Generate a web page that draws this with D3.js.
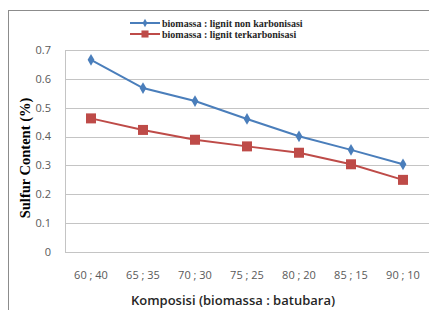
<!DOCTYPE html>
<html>
<head>
<meta charset="utf-8">
<script src="https://cdn.jsdelivr.net/npm/d3@7"></script>
<style>
  html, body { margin: 0; padding: 0; background: #fff; }
  svg { display: block; }
</style>
</head>
<body>
<div id="chart"></div>
<script>
// data
const categories = ["60 ; 40", "65 ; 35", "70 ; 30", "75 ; 25", "80 ; 20", "85 ; 15", "90 ; 10"]
const nonKarbonisasi = [0.666, 0.568, 0.523, 0.461, 0.401, 0.354, 0.304]
const terKarbonisasi = [0.463, 0.423, 0.389, 0.366, 0.344, 0.304, 0.25]
const yTicks = [0, 0.1, 0.2, 0.3, 0.4, 0.5, 0.6, 0.7]
const seriesNames = ["biomassa : lignit non karbonisasi", "biomassa : lignit terkarbonisasi"]

const width = 429, height = 310
const plot = { left: 65, right: 429, top: 50, bottom: 252 }

const svg = d3.select("#chart").append("svg")
    .attr("width", width)
    .attr("height", height)

// outer chart border (runs off the right/bottom of the crop)
svg.append("rect")
    .attr("x", 8.5).attr("y", 10.5)
    .attr("width", 440).attr("height", 320)
    .attr("fill", "none")
    .attr("stroke", "#8c8c8c")

const x = d3.scaleBand().domain(categories).range([plot.left, plot.right])
const y = d3.scaleLinear().domain([0, 0.7]).range([plot.bottom, plot.top])

// gridlines
svg.append("g")
    .selectAll("line")
    .data(yTicks)
    .join("line")
    .attr("x1", plot.left).attr("x2", plot.right)
    .attr("y1", d => Math.round(y(d)) + 0.5)
    .attr("y2", d => Math.round(y(d)) + 0.5)
    .attr("stroke", "#c4c4c4")
    .attr("stroke-width", 1)

// left axis line
svg.append("line")
    .attr("x1", plot.left + 0.5).attr("x2", plot.left + 0.5)
    .attr("y1", plot.top).attr("y2", plot.bottom)
    .attr("stroke", "#c4c4c4")

// y tick labels
svg.append("g")
    .attr("font-family", "'Open Sans', 'Liberation Sans', sans-serif")
    .attr("font-size", 11)
    .attr("fill", "#595959")
    .attr("text-anchor", "end")
    .selectAll("text")
    .data(yTicks)
    .join("text")
    .attr("x", 51)
    .attr("y", d => y(d))
    .attr("dy", "0.35em")
    .text(d => d === 0 ? "0" : d3.format(".1f")(d))

// x tick labels
svg.append("g")
    .attr("font-family", "'Open Sans', 'Liberation Sans', sans-serif")
    .attr("font-size", 11)
    .attr("fill", "#595959")
    .attr("text-anchor", "middle")
    .selectAll("text")
    .data(categories)
    .join("text")
    .attr("x", d => x(d) + x.bandwidth() / 2)
    .attr("y", 275)
    .attr("dy", "0.35em")
    .text(d => d)

// axis titles
svg.append("text")
    .attr("x", 233).attr("y", 300)
    .attr("dy", "0.35em")
    .attr("text-anchor", "middle")
    .attr("font-family", "'Open Sans', 'Liberation Sans', sans-serif")
    .attr("font-size", 13)
    .attr("font-weight", 600)
    .attr("fill", "#262626")
    .text("Komposisi (biomassa : batubara)")

svg.append("text")
    .attr("transform", "translate(25,158) rotate(-90)")
    .attr("dy", "0.35em")
    .attr("text-anchor", "middle")
    .attr("font-family", "'Liberation Serif', 'DejaVu Serif', serif")
    .attr("font-size", 14.5)
    .attr("font-weight", "bold")
    .attr("fill", "#000")
    .text("Sulfur Content (%)")

const cx = (d, i) => x(categories[i]) + x.bandwidth() / 2
const line = d3.line().x((d, i) => cx(d, i)).y(d => y(d))

const series = [
    { name: seriesNames[0], values: nonKarbonisasi, color: "#4a7ebb", symbol: d3.symbolDiamond, size: 40, width: 2 },
    { name: seriesNames[1], values: terKarbonisasi, color: "#be4b48", symbol: d3.symbolSquare, size: 100, width: 2 }
]

series.forEach(s => {
    svg.append("path")
        .attr("d", line(s.values))
        .attr("fill", "none")
        .attr("stroke", s.color)
        .attr("stroke-width", s.width)
    svg.append("g")
        .selectAll("path")
        .data(s.values)
        .join("path")
        .attr("transform", (d, i) => `translate(${cx(d, i)},${y(d)})`)
        .attr("d", d3.symbol().type(s.symbol).size(s.size))
        .attr("fill", s.color)
})

// legend
const legend = svg.append("g")
    .selectAll("g")
    .data(series)
    .join("g")
    .attr("transform", (d, i) => `translate(130,${23 + i * 11})`)

legend.append("line")
    .attr("x1", 0).attr("x2", 30)
    .attr("stroke", d => d.color)
    .attr("stroke-width", 2)
legend.append("path")
    .attr("transform", "translate(15,0)")
    .attr("d", d => d3.symbol().type(d.symbol).size(d.size * 0.5)())
    .attr("fill", d => d.color)
legend.append("text")
    .attr("x", 32)
    .attr("dy", "0.35em")
    .attr("font-family", "'Liberation Serif', 'DejaVu Serif', serif")
    .attr("font-size", 10)
    .attr("font-weight", "bold")
    .attr("fill", "#262626")
    .text(d => d.name)
</script>
</body>
</html>
